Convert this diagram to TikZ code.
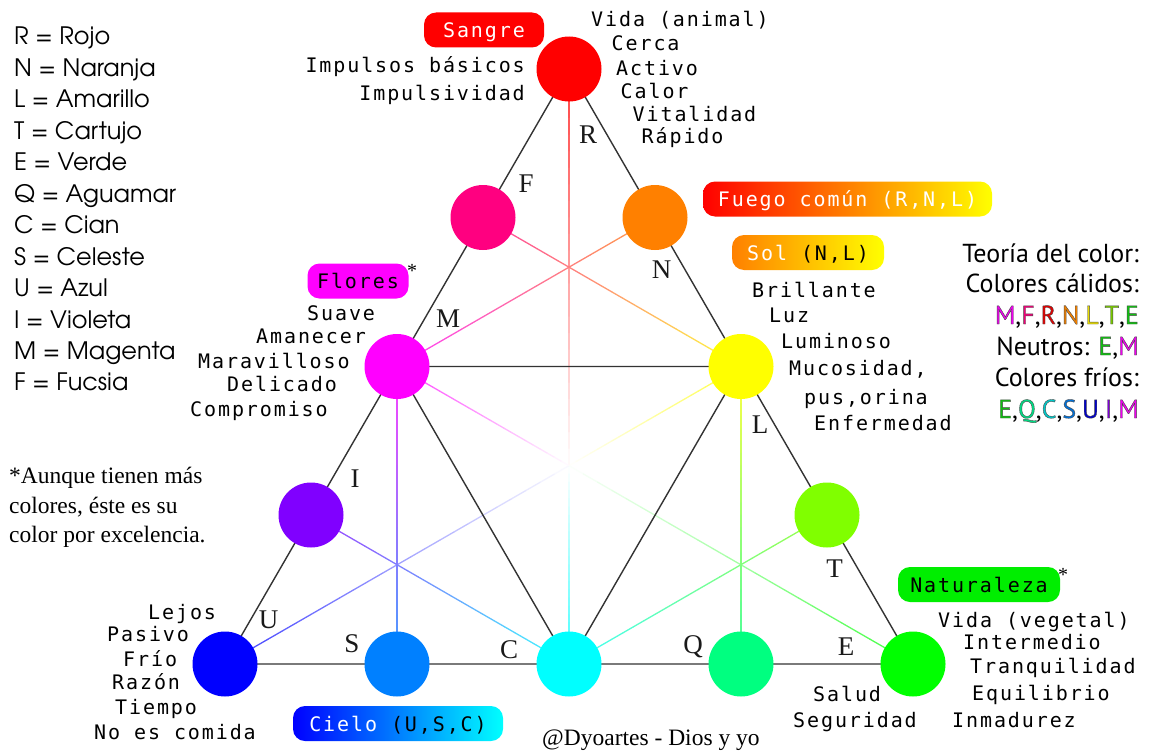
\documentclass[tikz,border=0pt]{standalone}
\usepackage{fontspec}
\usetikzlibrary{calc}

\newfontfamily\monolbl[LetterSpace=9.5]{DejaVu Sans Mono}
\newfontfamily\notefont{Liberation Serif}
\newfontfamily\theoryfont{PT Sans}
\newfontfamily\theorywide[LetterSpace=12]{PT Sans}
\newfontfamily\keyfont{TeX Gyre Adventor}

\definecolor{cR}{HTML}{FF0000}
\definecolor{cF}{HTML}{FF0080}
\definecolor{cN}{HTML}{FF8000}
\definecolor{cM}{HTML}{FF00FF}
\definecolor{cL}{HTML}{FFFF00}
\definecolor{cI}{HTML}{8000FF}
\definecolor{cT}{HTML}{80FF00}
\definecolor{cU}{HTML}{0000FF}
\definecolor{cS}{HTML}{0080FF}
\definecolor{cC}{HTML}{00FFFF}
\definecolor{cQ}{HTML}{00FF80}
\definecolor{cE}{HTML}{00FF00}
\definecolor{framegray}{HTML}{333333}
\definecolor{leafpill}{HTML}{00EE00}
% tones for the letters of the colour-theory summary
\definecolor{tM}{HTML}{F000F0}
\definecolor{tF}{HTML}{F00078}
\definecolor{tR}{HTML}{E00000}
\definecolor{tN}{HTML}{F08000}
\definecolor{tL}{HTML}{E8DC00}
\definecolor{tT}{HTML}{78C800}
\definecolor{tE}{HTML}{10C010}
\definecolor{tQ}{HTML}{00DC84}
\definecolor{tC}{HTML}{00C8C8}
\definecolor{tS}{HTML}{0070D8}
\definecolor{tU}{HTML}{0000C8}
\definecolor{tI}{HTML}{8000D8}

\pgfdeclarelayer{background}
\pgfsetlayers{background,main}

% a letter filled with colour #1 and stroked with a thin dark rim
\newcommand\rimmed[2]{\textcolor{#1}{%
  \special{pdf:literal direct 2 Tr 0.4 w 0.3 0.3 0.3 RG}#2%
  \special{pdf:literal direct 0 Tr}}}

% a connector whose colour runs from #3 at #1 to #4 at #2
\newcommand\gradline[4]{%
  \foreach \k in {0,...,23}{%
    \pgfmathsetmacro\gA{\k/24}%
    \pgfmathsetmacro\gB{(\k+1)/24}%
    \pgfmathtruncatemacro\gP{(\k+0.5)*100/24}%
    \draw[mixline, color={#4!\gP!#3!75!white}] ($(#1.center)!\gA!(#2.center)$) -- ($(#1.center)!\gB!(#2.center)$);
  }}

\begin{document}
\begin{tikzpicture}[x=1pt,y=-1pt,
  disc/.style={circle, minimum size=65pt, inner sep=0pt, draw=none},
  frameline/.style={draw=framegray, line width=1.4pt, line join=round},
  mixline/.style={line width=1.3pt, line cap=round},
  lbl/.style={font=\monolbl\fontsize{20}{23}\selectfont, inner sep=0pt, anchor=base west},
  lblr/.style={lbl, anchor=base east},
  edgeletter/.style={font=\notefont\fontsize{27}{30}\selectfont, inner sep=0pt, anchor=base, text=black!90},
  pill/.style={rounded corners=12pt, minimum height=35pt, inner sep=0pt,
    text height=15pt, text depth=0pt, font=\monolbl\fontsize{20}{23}\selectfont},
  keyline/.style={font=\keyfont\fontsize{24}{28}\selectfont, anchor=base west, inner sep=0pt},
  theoryline/.style={font=\theoryfont\fontsize{26}{30}\selectfont, anchor=base east, inner sep=0pt},
  theorylist/.style={theoryline, font=\theorywide\fontsize{26}{30}\selectfont},
  note/.style={font=\notefont\fontsize{23.5}{29}\selectfont, anchor=base west, inner sep=0pt},
  star/.style={font=\notefont\fontsize{20}{22}\selectfont, anchor=base, inner sep=0pt},
]
\useasboundingbox (0,0) rectangle (1150,752);

% ---- the twelve colour discs ----
\node[disc, fill=cR] (R) at (569,69) {};
\node[disc, fill=cF] (F) at (483,217.5) {};
\node[disc, fill=cN] (N) at (655,217.5) {};
\node[disc, fill=cM] (M) at (397,366.5) {};
\node[disc, fill=cL] (L) at (741,366.5) {};
\node[disc, fill=cI] (I) at (311,515) {};
\node[disc, fill=cT] (T) at (827,515) {};
\node[disc, fill=cU] (U) at (225,664) {};
\node[disc, fill=cS] (S) at (397,664) {};
\node[disc, fill=cC] (C) at (569,664) {};
\node[disc, fill=cQ] (Q) at (741,664) {};
\node[disc, fill=cE] (E) at (913,664) {};
\coordinate (ctr) at ($(R.center)!2/3!(C.center)$);

\begin{pgfonlayer}{background}
  \fill[white] (0,0) rectangle (1150,752);
  % mixing lines, fading to white at the centre
  \gradline{R}{ctr}{cR}{white}
  \gradline{ctr}{C}{white}{cC}
  \gradline{U}{ctr}{cU}{white}
  \gradline{ctr}{L}{white}{cL}
  \gradline{M}{ctr}{cM}{white}
  \gradline{ctr}{E}{white}{cE}
  % mixing lines inside the corner triangles
  \gradline{F}{L}{cF}{cL}
  \gradline{N}{M}{cN}{cM}
  \gradline{M}{S}{cM}{cS}
  \gradline{I}{C}{cI}{cC}
  \gradline{L}{Q}{cL}{cQ}
  \gradline{T}{C}{cT}{cC}
  % outer and inner triangles
  \draw[frameline] (R.center) -- (U.center) -- (E.center) -- cycle;
  \draw[frameline] (M.center) -- (L.center) -- (C.center) -- cycle;
\end{pgfonlayer}

% ---- letters along the edges ----
\node[edgeletter] (eR) at (588,143) {R};
\node[edgeletter] (eF) at (526,192) {F};
\node[edgeletter] (eN) at (661.5,278) {N};
\node[edgeletter] (eM) at (448,327) {M};
\node[edgeletter] (eL) at (760,433) {L};
\node[edgeletter] (eI) at (355,487) {I};
\node[edgeletter] (eT) at (834.5,577) {T};
\node[edgeletter] (eU) at (268.5,628) {U};
\node[edgeletter] (eS) at (352,652) {S};
\node[edgeletter] (eC) at (509,658) {C};
\node[edgeletter] (eQ) at (693,653) {Q};
\node[edgeletter] (eE) at (846,655) {E};

% ---- group labels ----
\node[pill, fill=cR, text=white, minimum width=120pt] (sangre) at (484,30) {Sangre};
\node[pill, fill=cM, minimum width=101pt] (flores) at (358,281) {Flores};
\node[star] (floresstar) at (412,277) {*};
\node[pill, left color=cR, right color=cL, text=white, minimum width=289pt] (fuego) at (847.5,199) {Fuego común (R,N,L)};
\node[pill, left color=cN, right color=cL, minimum width=152pt] (sol) at (808,252.5) {\textcolor{white}{Sol} (N,L)};
\node[pill, fill=leafpill, minimum width=162pt] (natur) at (979,584.5) {Naturaleza};
\node[star] (naturstar) at (1063,581) {*};
\node[pill, left color=cU, right color=cC, minimum width=210pt] (cielo) at (398,723.5) {\textcolor{white}{Cielo} (U,S,C)};

% ---- words around red ----
\node[lbl] (r1) at (591,27) {Vida (animal)};
\node[lbl] (r2) at (611.5,51) {Cerca};
\node[lbl] (r3) at (616,75) {Activo};
\node[lbl] (r4) at (620.5,98) {Calor};
\node[lbl] (r5) at (632.5,121) {Vitalidad};
\node[lbl] (r6) at (641.5,143) {Rápido};
\node[lblr] (r7) at (525,73) {Impulsos básicos};
\node[lblr] (r8) at (525,100) {Impulsividad};

% ---- words around yellow ----
\node[lbl] (y1) at (752,297) {Brillante};
\node[lbl] (y2) at (769,322) {Luz};
\node[lbl] (y3) at (781,348) {Luminoso};
\node[lbl] (y4) at (789,375) {Mucosidad,};
\node[lbl] (y5) at (804,404) {pus,orina};
\node[lbl] (y6) at (814,430) {Enfermedad};

% ---- words around magenta ----
\node[lbl] (m1) at (307,320) {Suave};
\node[lbl] (m2) at (256,343) {Amanecer};
\node[lbl] (m3) at (198,368) {Maravilloso};
\node[lbl] (m4) at (227,391) {Delicado};
\node[lbl] (m5) at (190,416) {Compromiso};

% ---- words around blue ----
\node[lbl] (u1) at (148,619) {Lejos};
\node[lbl] (u2) at (107,641) {Pasivo};
\node[lbl] (u3) at (123,666) {Frío};
\node[lbl] (u4) at (112,689) {Razón};
\node[lbl] (u5) at (115,714) {Tiempo};
\node[lbl] (u6) at (94,739) {No es comida};

% ---- words around green ----
\node[lbl] (g1) at (813,701) {Salud};
\node[lbl] (g2) at (793,727) {Seguridad};
\node[lbl] (g3) at (938,627) {Vida (vegetal)};
\node[lbl] (g4) at (963,649) {Intermedio};
\node[lbl] (g5) at (970,673) {Tranquilidad};
\node[lbl] (g6) at (972,700) {Equilibrio};
\node[lbl] (g7) at (952,727) {Inmadurez};

% ---- key of letters ----
\foreach \t [count=\i from 0] in {R = Rojo, N = Naranja, L = Amarillo, T = Cartujo,
    E = Verde, Q = Aguamar, C = Cian, S = Celeste, U = Azul, I = Violeta,
    M = Magenta, F = Fucsia}
  \node[keyline] (key\i) at (14,45+31.45*\i) {\t};

% ---- colour theory summary ----
\node[theoryline] (th1) at (1139,262) {Teoría del color:};
\node[theoryline] (th2) at (1139,292) {Colores cálidos:};
\node[theorylist] (th3) at (1139,324) {\rimmed{tM}{M},\rimmed{tF}{F},\rimmed{tR}{R},\rimmed{tN}{N},\rimmed{tL}{L},\rimmed{tT}{T},\rimmed{tE}{E}};
\node[theoryline] (th4) at (1139,355) {Neutros: {\theorywide\rimmed{tE}{E},\rimmed{tM}{M}}};
\node[theoryline] (th5) at (1139,386) {Colores fríos:};
\node[theorylist] (th6) at (1139,418) {\rimmed{tE}{E},\rimmed{tQ}{Q},\rimmed{tC}{C},\rimmed{tS}{S},\rimmed{tU}{U},\rimmed{tI}{I},\rimmed{tM}{M}};

% ---- footnote and credit ----
\node[note] (n1) at (9,483) {*Aunque tienen más};
\node[note] (n2) at (9,513) {colores, éste es su};
\node[note] (n3) at (9,542) {color por excelencia.};
\node[note] (credit) at (542,745) {@Dyoartes - Dios y yo};
\end{tikzpicture}
\end{document}
